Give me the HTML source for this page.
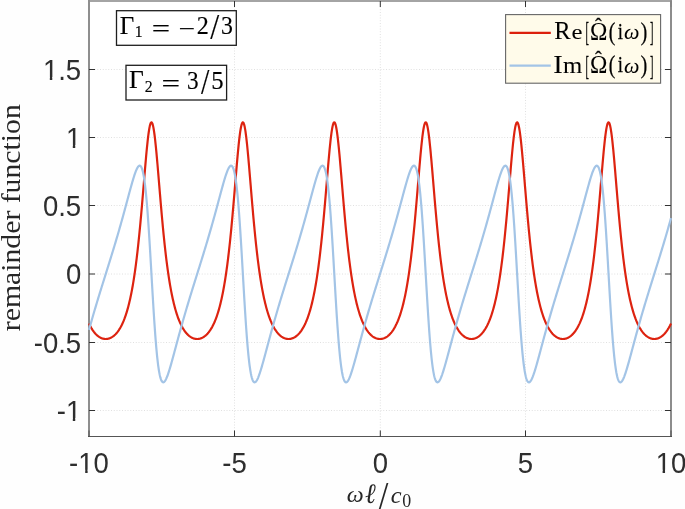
<!DOCTYPE html>
<html><head><meta charset="utf-8"><style>
html,body{margin:0;padding:0;background:#fff;overflow:hidden}
svg{display:block;will-change:transform}
</style></head><body>
<svg width="685" height="509" viewBox="0 0 685 509">
<defs><clipPath id="one" clipPathUnits="userSpaceOnUse"><rect x="-5" y="-40" width="39" height="37.033"/><rect x="7.292" y="-5" width="2.563" height="10"/></clipPath></defs>
<rect x="0" y="0" width="685" height="509" fill="#fefefe"/>
<rect x="89.0" y="1.0" width="582.0" height="435.5" fill="#ffffff"/>
<g stroke="#e0e0e0" stroke-width="1" stroke-dasharray="1 1.75"><line x1="234.5" y1="1.0" x2="234.5" y2="436.5"/><line x1="380.3" y1="1.0" x2="380.3" y2="436.5"/><line x1="525.5" y1="1.0" x2="525.5" y2="436.5"/><line x1="89.0" y1="69.5" x2="671.0" y2="69.5"/><line x1="89.0" y1="137.5" x2="671.0" y2="137.5"/><line x1="89.0" y1="205.5" x2="671.0" y2="205.5"/><line x1="89.0" y1="274.0" x2="671.0" y2="274.0"/><line x1="89.0" y1="342.5" x2="671.0" y2="342.5"/><line x1="89.0" y1="410.5" x2="671.0" y2="410.5"/></g>
<rect x="88" y="0" width="584" height="2" fill="#a4a4a4"/>
<rect x="88" y="0" width="2" height="437" fill="#8e8e8e"/>
<rect x="670" y="0" width="2" height="437" fill="#8c8c8c"/>
<rect x="88" y="436" width="584" height="1" fill="#555555"/>
<g stroke="#333" stroke-width="1"><line x1="234.5" y1="436.5" x2="234.5" y2="430.5"/><line x1="234.5" y1="1" x2="234.5" y2="7"/><line x1="380.3" y1="436.5" x2="380.3" y2="430.5"/><line x1="380.3" y1="1" x2="380.3" y2="7"/><line x1="525.5" y1="436.5" x2="525.5" y2="430.5"/><line x1="525.5" y1="1" x2="525.5" y2="7"/><line x1="89" y1="436.5" x2="89" y2="430.5" stroke-opacity="0.6"/><line x1="671" y1="436.5" x2="671" y2="430.5" stroke-opacity="0.6"/><line x1="671" y1="1" x2="671" y2="7" stroke-opacity="0.15"/><line x1="89.0" y1="69.5" x2="95.0" y2="69.5"/><line x1="671.0" y1="69.5" x2="665.0" y2="69.5"/><line x1="89.0" y1="137.5" x2="95.0" y2="137.5"/><line x1="671.0" y1="137.5" x2="665.0" y2="137.5"/><line x1="89.0" y1="205.5" x2="95.0" y2="205.5"/><line x1="671.0" y1="205.5" x2="665.0" y2="205.5"/><line x1="89.0" y1="274.0" x2="95.0" y2="274.0"/><line x1="671.0" y1="274.0" x2="665.0" y2="274.0"/><line x1="89.0" y1="342.5" x2="95.0" y2="342.5"/><line x1="671.0" y1="342.5" x2="665.0" y2="342.5"/><line x1="89.0" y1="410.5" x2="95.0" y2="410.5"/><line x1="671.0" y1="410.5" x2="665.0" y2="410.5"/></g>
<path d="M89.00,323.47 L89.36,324.25 L89.73,324.99 L90.09,325.72 L90.46,326.41 L90.82,327.08 L91.18,327.73 L91.55,328.35 L91.91,328.96 L92.28,329.53 L92.64,330.09 L93.00,330.62 L93.37,331.14 L93.73,331.63 L94.10,332.11 L94.46,332.56 L94.82,333.00 L95.19,333.42 L95.55,333.82 L95.92,334.21 L96.28,334.57 L96.64,334.92 L97.01,335.26 L97.37,335.57 L97.74,335.88 L98.10,336.16 L98.46,336.44 L98.83,336.69 L99.19,336.94 L99.56,337.16 L99.92,337.38 L100.28,337.58 L100.65,337.76 L101.01,337.94 L101.38,338.10 L101.74,338.24 L102.10,338.37 L102.47,338.49 L102.83,338.60 L103.20,338.69 L103.56,338.78 L103.92,338.84 L104.29,338.90 L104.65,338.94 L105.02,338.98 L105.38,338.99 L105.74,339.00 L106.11,338.99 L106.47,338.97 L106.83,338.94 L107.20,338.90 L107.56,338.84 L107.93,338.77 L108.29,338.69 L108.65,338.60 L109.02,338.49 L109.38,338.37 L109.75,338.24 L110.11,338.09 L110.47,337.93 L110.84,337.76 L111.20,337.57 L111.57,337.37 L111.93,337.16 L112.29,336.93 L112.66,336.69 L113.02,336.43 L113.39,336.16 L113.75,335.87 L114.11,335.57 L114.48,335.25 L114.84,334.91 L115.21,334.56 L115.57,334.20 L115.93,333.81 L116.30,333.41 L116.66,332.99 L117.03,332.55 L117.39,332.10 L117.75,331.62 L118.12,331.13 L118.48,330.61 L118.85,330.08 L119.21,329.52 L119.57,328.94 L119.94,328.34 L120.30,327.72 L120.67,327.07 L121.03,326.40 L121.39,325.70 L121.76,324.98 L122.12,324.23 L122.49,323.45 L122.85,322.65 L123.21,321.81 L123.58,320.95 L123.94,320.05 L124.31,319.13 L124.67,318.17 L125.03,317.17 L125.40,316.14 L125.76,315.07 L126.13,313.97 L126.49,312.83 L126.85,311.64 L127.22,310.42 L127.58,309.15 L127.95,307.83 L128.31,306.48 L128.67,305.07 L129.04,303.61 L129.40,302.10 L129.77,300.54 L130.13,298.93 L130.49,297.26 L130.86,295.53 L131.22,293.73 L131.59,291.88 L131.95,289.97 L132.31,287.98 L132.68,285.93 L133.04,283.81 L133.41,281.61 L133.77,279.34 L134.13,277.00 L134.50,274.57 L134.86,272.07 L135.23,269.48 L135.59,266.81 L135.95,264.05 L136.32,261.20 L136.68,258.26 L137.05,255.23 L137.41,252.11 L137.77,248.90 L138.14,245.59 L138.50,242.19 L138.86,238.69 L139.23,235.10 L139.59,231.42 L139.96,227.66 L140.32,223.80 L140.68,219.86 L141.05,215.84 L141.41,211.75 L141.78,207.59 L142.14,203.36 L142.50,199.09 L142.87,194.77 L143.23,190.42 L143.60,186.04 L143.96,181.66 L144.32,177.29 L144.69,172.94 L145.05,168.63 L145.42,164.39 L145.78,160.22 L146.14,156.16 L146.51,152.22 L146.87,148.43 L147.24,144.80 L147.60,141.38 L147.96,138.16 L148.33,135.19 L148.69,132.49 L149.06,130.06 L149.42,127.94 L149.78,126.14 L150.15,124.67 L150.51,123.55 L150.88,122.79 L151.24,122.39 L151.60,122.37 L151.97,122.71 L152.33,123.41 L152.70,124.48 L153.06,125.90 L153.42,127.65 L153.79,129.73 L154.15,132.11 L154.52,134.77 L154.88,137.71 L155.24,140.89 L155.61,144.28 L155.97,147.88 L156.34,151.65 L156.70,155.57 L157.06,159.61 L157.43,163.77 L157.79,168.00 L158.16,172.30 L158.52,176.64 L158.88,181.01 L159.25,185.39 L159.61,189.77 L159.98,194.12 L160.34,198.45 L160.70,202.73 L161.07,206.96 L161.43,211.14 L161.80,215.24 L162.16,219.27 L162.52,223.22 L162.89,227.09 L163.25,230.87 L163.62,234.56 L163.98,238.17 L164.34,241.67 L164.71,245.09 L165.07,248.41 L165.44,251.64 L165.80,254.77 L166.16,257.82 L166.53,260.77 L166.89,263.63 L167.26,266.40 L167.62,269.09 L167.98,271.69 L168.35,274.21 L168.71,276.64 L169.08,279.00 L169.44,281.28 L169.80,283.49 L170.17,285.62 L170.53,287.68 L170.89,289.68 L171.26,291.60 L171.62,293.46 L171.99,295.26 L172.35,297.00 L172.71,298.68 L173.08,300.31 L173.44,301.87 L173.81,303.39 L174.17,304.85 L174.53,306.27 L174.90,307.64 L175.26,308.96 L175.63,310.23 L175.99,311.46 L176.35,312.65 L176.72,313.80 L177.08,314.91 L177.45,315.99 L177.81,317.02 L178.17,318.02 L178.54,318.99 L178.90,319.92 L179.27,320.82 L179.63,321.69 L179.99,322.53 L180.36,323.34 L180.72,324.12 L181.09,324.87 L181.45,325.60 L181.81,326.30 L182.18,326.97 L182.54,327.62 L182.91,328.25 L183.27,328.85 L183.63,329.44 L184.00,330.00 L184.36,330.53 L184.73,331.05 L185.09,331.55 L185.45,332.03 L185.82,332.49 L186.18,332.93 L186.55,333.35 L186.91,333.75 L187.27,334.14 L187.64,334.51 L188.00,334.86 L188.37,335.20 L188.73,335.52 L189.09,335.83 L189.46,336.12 L189.82,336.39 L190.19,336.65 L190.55,336.89 L190.91,337.13 L191.28,337.34 L191.64,337.54 L192.01,337.73 L192.37,337.91 L192.73,338.07 L193.10,338.22 L193.46,338.35 L193.83,338.47 L194.19,338.58 L194.55,338.68 L194.92,338.76 L195.28,338.83 L195.65,338.89 L196.01,338.94 L196.37,338.97 L196.74,338.99 L197.10,339.00 L197.47,339.00 L197.83,338.98 L198.19,338.95 L198.56,338.91 L198.92,338.85 L199.29,338.79 L199.65,338.71 L200.01,338.62 L200.38,338.51 L200.74,338.39 L201.11,338.26 L201.47,338.12 L201.83,337.96 L202.20,337.79 L202.56,337.61 L202.92,337.41 L203.29,337.20 L203.65,336.97 L204.02,336.73 L204.38,336.47 L204.74,336.21 L205.11,335.92 L205.47,335.62 L205.84,335.30 L206.20,334.97 L206.56,334.63 L206.93,334.26 L207.29,333.88 L207.66,333.48 L208.02,333.06 L208.38,332.63 L208.75,332.18 L209.11,331.71 L209.48,331.21 L209.84,330.70 L210.20,330.17 L210.57,329.62 L210.93,329.04 L211.30,328.45 L211.66,327.83 L212.02,327.18 L212.39,326.51 L212.75,325.82 L213.12,325.10 L213.48,324.36 L213.84,323.59 L214.21,322.79 L214.57,321.96 L214.94,321.10 L215.30,320.21 L215.66,319.29 L216.03,318.33 L216.39,317.34 L216.76,316.32 L217.12,315.26 L217.48,314.16 L217.85,313.02 L218.21,311.85 L218.58,310.63 L218.94,309.37 L219.30,308.06 L219.67,306.71 L220.03,305.31 L220.40,303.86 L220.76,302.36 L221.12,300.81 L221.49,299.21 L221.85,297.54 L222.22,295.82 L222.58,294.04 L222.94,292.20 L223.31,290.30 L223.67,288.32 L224.04,286.29 L224.40,284.18 L224.76,281.99 L225.13,279.74 L225.49,277.40 L225.86,274.99 L226.22,272.50 L226.58,269.93 L226.95,267.27 L227.31,264.52 L227.68,261.69 L228.04,258.77 L228.40,255.75 L228.77,252.65 L229.13,249.45 L229.50,246.16 L229.86,242.77 L230.22,239.29 L230.59,235.72 L230.95,232.06 L231.32,228.30 L231.68,224.46 L232.04,220.54 L232.41,216.53 L232.77,212.45 L233.14,208.30 L233.50,204.09 L233.86,199.82 L234.23,195.51 L234.59,191.16 L234.95,186.79 L235.32,182.41 L235.68,178.03 L236.05,173.68 L236.41,169.36 L236.77,165.11 L237.14,160.93 L237.50,156.84 L237.87,152.88 L238.23,149.06 L238.59,145.41 L238.96,141.95 L239.32,138.70 L239.69,135.68 L240.05,132.93 L240.41,130.45 L240.78,128.28 L241.14,126.42 L241.51,124.89 L241.87,123.72 L242.23,122.89 L242.60,122.44 L242.96,122.35 L243.33,122.62 L243.69,123.27 L244.05,124.27 L244.42,125.63 L244.78,127.33 L245.15,129.35 L245.51,131.68 L245.87,134.30 L246.24,137.19 L246.60,140.33 L246.97,143.69 L247.33,147.25 L247.69,150.99 L248.06,154.89 L248.42,158.92 L248.79,163.05 L249.15,167.27 L249.51,171.56 L249.88,175.90 L250.24,180.27 L250.61,184.65 L250.97,189.02 L251.33,193.38 L251.70,197.72 L252.06,202.01 L252.43,206.25 L252.79,210.43 L253.15,214.55 L253.52,218.59 L253.88,222.55 L254.25,226.44 L254.61,230.23 L254.97,233.94 L255.34,237.56 L255.70,241.08 L256.07,244.51 L256.43,247.85 L256.79,251.10 L257.16,254.25 L257.52,257.30 L257.89,260.27 L258.25,263.15 L258.61,265.94 L258.98,268.64 L259.34,271.25 L259.71,273.78 L260.07,276.23 L260.43,278.61 L260.80,280.90 L261.16,283.12 L261.53,285.26 L261.89,287.34 L262.25,289.34 L262.62,291.28 L262.98,293.15 L263.35,294.96 L263.71,296.71 L264.07,298.40 L264.44,300.03 L264.80,301.61 L265.17,303.14 L265.53,304.61 L265.89,306.03 L266.26,307.41 L266.62,308.73 L266.98,310.02 L267.35,311.26 L267.71,312.45 L268.08,313.61 L268.44,314.73 L268.80,315.81 L269.17,316.85 L269.53,317.85 L269.90,318.82 L270.26,319.76 L270.62,320.67 L270.99,321.54 L271.35,322.39 L271.72,323.20 L272.08,323.98 L272.44,324.74 L272.81,325.47 L273.17,326.18 L273.54,326.86 L273.90,327.51 L274.26,328.14 L274.63,328.75 L274.99,329.34 L275.36,329.90 L275.72,330.44 L276.08,330.97 L276.45,331.47 L276.81,331.95 L277.18,332.41 L277.54,332.85 L277.90,333.28 L278.27,333.69 L278.63,334.08 L279.00,334.45 L279.36,334.81 L279.72,335.14 L280.09,335.47 L280.45,335.78 L280.82,336.07 L281.18,336.34 L281.54,336.61 L281.91,336.85 L282.27,337.09 L282.64,337.31 L283.00,337.51 L283.36,337.70 L283.73,337.88 L284.09,338.04 L284.46,338.19 L284.82,338.33 L285.18,338.45 L285.55,338.57 L285.91,338.66 L286.28,338.75 L286.64,338.82 L287.00,338.88 L287.37,338.93 L287.73,338.97 L288.10,338.99 L288.46,339.00 L288.82,339.00 L289.19,338.98 L289.55,338.96 L289.92,338.92 L290.28,338.86 L290.64,338.80 L291.01,338.72 L291.37,338.63 L291.74,338.53 L292.10,338.41 L292.46,338.29 L292.83,338.14 L293.19,337.99 L293.56,337.82 L293.92,337.64 L294.28,337.44 L294.65,337.23 L295.01,337.01 L295.38,336.77 L295.74,336.52 L296.10,336.25 L296.47,335.97 L296.83,335.67 L297.20,335.36 L297.56,335.03 L297.92,334.69 L298.29,334.32 L298.65,333.95 L299.02,333.55 L299.38,333.14 L299.74,332.71 L300.11,332.26 L300.47,331.79 L300.83,331.30 L301.20,330.79 L301.56,330.26 L301.93,329.71 L302.29,329.14 L302.65,328.55 L303.02,327.93 L303.38,327.29 L303.75,326.63 L304.11,325.94 L304.47,325.23 L304.84,324.49 L305.20,323.72 L305.57,322.93 L305.93,322.10 L306.29,321.25 L306.66,320.36 L307.02,319.45 L307.39,318.50 L307.75,317.51 L308.11,316.50 L308.48,315.44 L308.84,314.35 L309.21,313.22 L309.57,312.05 L309.93,310.84 L310.30,309.59 L310.66,308.29 L311.03,306.94 L311.39,305.55 L311.75,304.11 L312.12,302.62 L312.48,301.08 L312.85,299.48 L313.21,297.83 L313.57,296.12 L313.94,294.35 L314.30,292.52 L314.67,290.63 L315.03,288.67 L315.39,286.64 L315.76,284.54 L316.12,282.37 L316.49,280.13 L316.85,277.81 L317.21,275.41 L317.58,272.93 L317.94,270.37 L318.31,267.73 L318.67,265.00 L319.03,262.18 L319.40,259.27 L319.76,256.27 L320.13,253.18 L320.49,250.00 L320.85,246.73 L321.22,243.36 L321.58,239.89 L321.95,236.34 L322.31,232.69 L322.67,228.95 L323.04,225.12 L323.40,221.21 L323.77,217.22 L324.13,213.15 L324.49,209.01 L324.86,204.81 L325.22,200.55 L325.59,196.24 L325.95,191.90 L326.31,187.53 L326.68,183.15 L327.04,178.78 L327.41,174.42 L327.77,170.10 L328.13,165.83 L328.50,161.63 L328.86,157.53 L329.23,153.55 L329.59,149.70 L329.95,146.02 L330.32,142.52 L330.68,139.23 L331.05,136.18 L331.41,133.38 L331.77,130.85 L332.14,128.63 L332.50,126.71 L332.86,125.13 L333.23,123.89 L333.59,123.01 L333.96,122.49 L334.32,122.33 L334.68,122.55 L335.05,123.13 L335.41,124.08 L335.78,125.38 L336.14,127.02 L336.50,128.98 L336.87,131.26 L337.23,133.84 L337.60,136.68 L337.96,139.78 L338.32,143.10 L338.69,146.63 L339.05,150.35 L339.42,154.22 L339.78,158.22 L340.14,162.34 L340.51,166.55 L340.87,170.83 L341.24,175.16 L341.60,179.52 L341.96,183.90 L342.33,188.28 L342.69,192.64 L343.06,196.98 L343.42,201.28 L343.78,205.53 L344.15,209.72 L344.51,213.85 L344.88,217.91 L345.24,221.88 L345.60,225.78 L345.97,229.59 L346.33,233.32 L346.70,236.95 L347.06,240.49 L347.42,243.94 L347.79,247.29 L348.15,250.55 L348.52,253.72 L348.88,256.79 L349.24,259.77 L349.61,262.66 L349.97,265.47 L350.34,268.18 L350.70,270.81 L351.06,273.36 L351.43,275.82 L351.79,278.21 L352.16,280.51 L352.52,282.74 L352.88,284.90 L353.25,286.99 L353.61,289.00 L353.98,290.95 L354.34,292.84 L354.70,294.66 L355.07,296.42 L355.43,298.12 L355.80,299.76 L356.16,301.35 L356.52,302.88 L356.89,304.36 L357.25,305.79 L357.62,307.18 L357.98,308.51 L358.34,309.80 L358.71,311.05 L359.07,312.25 L359.44,313.42 L359.80,314.54 L360.16,315.62 L360.53,316.67 L360.89,317.68 L361.26,318.66 L361.62,319.60 L361.98,320.52 L362.35,321.39 L362.71,322.24 L363.08,323.06 L363.44,323.85 L363.80,324.62 L364.17,325.35 L364.53,326.06 L364.89,326.74 L365.26,327.40 L365.62,328.04 L365.99,328.65 L366.35,329.24 L366.71,329.81 L367.08,330.35 L367.44,330.88 L367.81,331.38 L368.17,331.87 L368.53,332.33 L368.90,332.78 L369.26,333.21 L369.63,333.62 L369.99,334.01 L370.35,334.39 L370.72,334.75 L371.08,335.09 L371.45,335.41 L371.81,335.72 L372.17,336.02 L372.54,336.30 L372.90,336.56 L373.27,336.81 L373.63,337.05 L373.99,337.27 L374.36,337.48 L374.72,337.67 L375.09,337.85 L375.45,338.02 L375.81,338.17 L376.18,338.31 L376.54,338.43 L376.91,338.55 L377.27,338.65 L377.63,338.74 L378.00,338.81 L378.36,338.87 L378.73,338.92 L379.09,338.96 L379.45,338.99 L379.82,339.00 L380.18,339.00 L380.55,338.99 L380.91,338.96 L381.27,338.92 L381.64,338.87 L382.00,338.81 L382.37,338.74 L382.73,338.65 L383.09,338.55 L383.46,338.43 L383.82,338.31 L384.19,338.17 L384.55,338.02 L384.91,337.85 L385.28,337.67 L385.64,337.48 L386.01,337.27 L386.37,337.05 L386.73,336.81 L387.10,336.56 L387.46,336.30 L387.83,336.02 L388.19,335.72 L388.55,335.41 L388.92,335.09 L389.28,334.75 L389.65,334.39 L390.01,334.01 L390.37,333.62 L390.74,333.21 L391.10,332.78 L391.47,332.33 L391.83,331.87 L392.19,331.38 L392.56,330.88 L392.92,330.35 L393.29,329.81 L393.65,329.24 L394.01,328.65 L394.38,328.04 L394.74,327.40 L395.11,326.74 L395.47,326.06 L395.83,325.35 L396.20,324.62 L396.56,323.85 L396.92,323.06 L397.29,322.24 L397.65,321.39 L398.02,320.52 L398.38,319.60 L398.74,318.66 L399.11,317.68 L399.47,316.67 L399.84,315.62 L400.20,314.54 L400.56,313.42 L400.93,312.25 L401.29,311.05 L401.66,309.80 L402.02,308.51 L402.38,307.18 L402.75,305.79 L403.11,304.36 L403.48,302.88 L403.84,301.35 L404.20,299.76 L404.57,298.12 L404.93,296.42 L405.30,294.66 L405.66,292.84 L406.02,290.95 L406.39,289.00 L406.75,286.99 L407.12,284.90 L407.48,282.74 L407.84,280.51 L408.21,278.21 L408.57,275.82 L408.94,273.36 L409.30,270.81 L409.66,268.18 L410.03,265.47 L410.39,262.66 L410.76,259.77 L411.12,256.79 L411.48,253.72 L411.85,250.55 L412.21,247.29 L412.58,243.94 L412.94,240.49 L413.30,236.95 L413.67,233.32 L414.03,229.59 L414.40,225.78 L414.76,221.88 L415.12,217.91 L415.49,213.85 L415.85,209.72 L416.22,205.53 L416.58,201.28 L416.94,196.98 L417.31,192.64 L417.67,188.28 L418.04,183.90 L418.40,179.52 L418.76,175.16 L419.13,170.83 L419.49,166.55 L419.86,162.34 L420.22,158.22 L420.58,154.22 L420.95,150.35 L421.31,146.63 L421.68,143.10 L422.04,139.78 L422.40,136.68 L422.77,133.84 L423.13,131.26 L423.50,128.98 L423.86,127.02 L424.22,125.38 L424.59,124.08 L424.95,123.13 L425.32,122.55 L425.68,122.33 L426.04,122.49 L426.41,123.01 L426.77,123.89 L427.14,125.13 L427.50,126.71 L427.86,128.63 L428.23,130.85 L428.59,133.38 L428.95,136.18 L429.32,139.23 L429.68,142.52 L430.05,146.02 L430.41,149.70 L430.77,153.55 L431.14,157.53 L431.50,161.63 L431.87,165.83 L432.23,170.10 L432.59,174.42 L432.96,178.78 L433.32,183.15 L433.69,187.53 L434.05,191.90 L434.41,196.24 L434.78,200.55 L435.14,204.81 L435.51,209.01 L435.87,213.15 L436.23,217.22 L436.60,221.21 L436.96,225.12 L437.33,228.95 L437.69,232.69 L438.05,236.34 L438.42,239.89 L438.78,243.36 L439.15,246.73 L439.51,250.00 L439.87,253.18 L440.24,256.27 L440.60,259.27 L440.97,262.18 L441.33,265.00 L441.69,267.73 L442.06,270.37 L442.42,272.93 L442.79,275.41 L443.15,277.81 L443.51,280.13 L443.88,282.37 L444.24,284.54 L444.61,286.64 L444.97,288.67 L445.33,290.63 L445.70,292.52 L446.06,294.35 L446.43,296.12 L446.79,297.83 L447.15,299.48 L447.52,301.08 L447.88,302.62 L448.25,304.11 L448.61,305.55 L448.97,306.94 L449.34,308.29 L449.70,309.59 L450.07,310.84 L450.43,312.05 L450.79,313.22 L451.16,314.35 L451.52,315.44 L451.89,316.50 L452.25,317.51 L452.61,318.50 L452.98,319.45 L453.34,320.36 L453.71,321.25 L454.07,322.10 L454.43,322.93 L454.80,323.72 L455.16,324.49 L455.53,325.23 L455.89,325.94 L456.25,326.63 L456.62,327.29 L456.98,327.93 L457.35,328.55 L457.71,329.14 L458.07,329.71 L458.44,330.26 L458.80,330.79 L459.17,331.30 L459.53,331.79 L459.89,332.26 L460.26,332.71 L460.62,333.14 L460.98,333.55 L461.35,333.95 L461.71,334.32 L462.08,334.69 L462.44,335.03 L462.80,335.36 L463.17,335.67 L463.53,335.97 L463.90,336.25 L464.26,336.52 L464.62,336.77 L464.99,337.01 L465.35,337.23 L465.72,337.44 L466.08,337.64 L466.44,337.82 L466.81,337.99 L467.17,338.14 L467.54,338.29 L467.90,338.41 L468.26,338.53 L468.63,338.63 L468.99,338.72 L469.36,338.80 L469.72,338.86 L470.08,338.92 L470.45,338.96 L470.81,338.98 L471.18,339.00 L471.54,339.00 L471.90,338.99 L472.27,338.97 L472.63,338.93 L473.00,338.88 L473.36,338.82 L473.72,338.75 L474.09,338.66 L474.45,338.57 L474.82,338.45 L475.18,338.33 L475.54,338.19 L475.91,338.04 L476.27,337.88 L476.64,337.70 L477.00,337.51 L477.36,337.31 L477.73,337.09 L478.09,336.85 L478.46,336.61 L478.82,336.34 L479.18,336.07 L479.55,335.78 L479.91,335.47 L480.28,335.14 L480.64,334.81 L481.00,334.45 L481.37,334.08 L481.73,333.69 L482.10,333.28 L482.46,332.85 L482.82,332.41 L483.19,331.95 L483.55,331.47 L483.92,330.97 L484.28,330.44 L484.64,329.90 L485.01,329.34 L485.37,328.75 L485.74,328.14 L486.10,327.51 L486.46,326.86 L486.83,326.18 L487.19,325.47 L487.56,324.74 L487.92,323.98 L488.28,323.20 L488.65,322.39 L489.01,321.54 L489.38,320.67 L489.74,319.76 L490.10,318.82 L490.47,317.85 L490.83,316.85 L491.20,315.81 L491.56,314.73 L491.92,313.61 L492.29,312.45 L492.65,311.26 L493.02,310.02 L493.38,308.73 L493.74,307.41 L494.11,306.03 L494.47,304.61 L494.83,303.14 L495.20,301.61 L495.56,300.03 L495.93,298.40 L496.29,296.71 L496.65,294.96 L497.02,293.15 L497.38,291.28 L497.75,289.34 L498.11,287.34 L498.47,285.26 L498.84,283.12 L499.20,280.90 L499.57,278.61 L499.93,276.23 L500.29,273.78 L500.66,271.25 L501.02,268.64 L501.39,265.94 L501.75,263.15 L502.11,260.27 L502.48,257.30 L502.84,254.25 L503.21,251.10 L503.57,247.85 L503.93,244.51 L504.30,241.08 L504.66,237.56 L505.03,233.94 L505.39,230.23 L505.75,226.44 L506.12,222.55 L506.48,218.59 L506.85,214.55 L507.21,210.43 L507.57,206.25 L507.94,202.01 L508.30,197.72 L508.67,193.38 L509.03,189.02 L509.39,184.65 L509.76,180.27 L510.12,175.90 L510.49,171.56 L510.85,167.27 L511.21,163.05 L511.58,158.92 L511.94,154.89 L512.31,150.99 L512.67,147.25 L513.03,143.69 L513.40,140.33 L513.76,137.19 L514.13,134.30 L514.49,131.68 L514.85,129.35 L515.22,127.33 L515.58,125.63 L515.95,124.27 L516.31,123.27 L516.67,122.62 L517.04,122.35 L517.40,122.44 L517.77,122.89 L518.13,123.72 L518.49,124.89 L518.86,126.42 L519.22,128.28 L519.59,130.45 L519.95,132.93 L520.31,135.68 L520.68,138.70 L521.04,141.95 L521.41,145.41 L521.77,149.06 L522.13,152.88 L522.50,156.84 L522.86,160.93 L523.23,165.11 L523.59,169.36 L523.95,173.68 L524.32,178.03 L524.68,182.41 L525.05,186.79 L525.41,191.16 L525.77,195.51 L526.14,199.82 L526.50,204.09 L526.86,208.30 L527.23,212.45 L527.59,216.53 L527.96,220.54 L528.32,224.46 L528.68,228.30 L529.05,232.06 L529.41,235.72 L529.78,239.29 L530.14,242.77 L530.50,246.16 L530.87,249.45 L531.23,252.65 L531.60,255.75 L531.96,258.77 L532.32,261.69 L532.69,264.52 L533.05,267.27 L533.42,269.93 L533.78,272.50 L534.14,274.99 L534.51,277.40 L534.87,279.74 L535.24,281.99 L535.60,284.18 L535.96,286.29 L536.33,288.32 L536.69,290.30 L537.06,292.20 L537.42,294.04 L537.78,295.82 L538.15,297.54 L538.51,299.21 L538.88,300.81 L539.24,302.36 L539.60,303.86 L539.97,305.31 L540.33,306.71 L540.70,308.06 L541.06,309.37 L541.42,310.63 L541.79,311.85 L542.15,313.02 L542.52,314.16 L542.88,315.26 L543.24,316.32 L543.61,317.34 L543.97,318.33 L544.34,319.29 L544.70,320.21 L545.06,321.10 L545.43,321.96 L545.79,322.79 L546.16,323.59 L546.52,324.36 L546.88,325.10 L547.25,325.82 L547.61,326.51 L547.98,327.18 L548.34,327.83 L548.70,328.45 L549.07,329.04 L549.43,329.62 L549.80,330.17 L550.16,330.70 L550.52,331.21 L550.89,331.71 L551.25,332.18 L551.62,332.63 L551.98,333.06 L552.34,333.48 L552.71,333.88 L553.07,334.26 L553.44,334.63 L553.80,334.97 L554.16,335.30 L554.53,335.62 L554.89,335.92 L555.26,336.21 L555.62,336.47 L555.98,336.73 L556.35,336.97 L556.71,337.20 L557.08,337.41 L557.44,337.61 L557.80,337.79 L558.17,337.96 L558.53,338.12 L558.89,338.26 L559.26,338.39 L559.62,338.51 L559.99,338.62 L560.35,338.71 L560.71,338.79 L561.08,338.85 L561.44,338.91 L561.81,338.95 L562.17,338.98 L562.53,339.00 L562.90,339.00 L563.26,338.99 L563.63,338.97 L563.99,338.94 L564.35,338.89 L564.72,338.83 L565.08,338.76 L565.45,338.68 L565.81,338.58 L566.17,338.47 L566.54,338.35 L566.90,338.22 L567.27,338.07 L567.63,337.91 L567.99,337.73 L568.36,337.54 L568.72,337.34 L569.09,337.13 L569.45,336.89 L569.81,336.65 L570.18,336.39 L570.54,336.12 L570.91,335.83 L571.27,335.52 L571.63,335.20 L572.00,334.86 L572.36,334.51 L572.73,334.14 L573.09,333.75 L573.45,333.35 L573.82,332.93 L574.18,332.49 L574.55,332.03 L574.91,331.55 L575.27,331.05 L575.64,330.53 L576.00,330.00 L576.37,329.44 L576.73,328.85 L577.09,328.25 L577.46,327.62 L577.82,326.97 L578.19,326.30 L578.55,325.60 L578.91,324.87 L579.28,324.12 L579.64,323.34 L580.01,322.53 L580.37,321.69 L580.73,320.82 L581.10,319.92 L581.46,318.99 L581.83,318.02 L582.19,317.02 L582.55,315.99 L582.92,314.91 L583.28,313.80 L583.65,312.65 L584.01,311.46 L584.37,310.23 L584.74,308.96 L585.10,307.64 L585.47,306.27 L585.83,304.85 L586.19,303.39 L586.56,301.87 L586.92,300.31 L587.29,298.68 L587.65,297.00 L588.01,295.26 L588.38,293.46 L588.74,291.60 L589.11,289.68 L589.47,287.68 L589.83,285.62 L590.20,283.49 L590.56,281.28 L590.92,279.00 L591.29,276.64 L591.65,274.21 L592.02,271.69 L592.38,269.09 L592.74,266.40 L593.11,263.63 L593.47,260.77 L593.84,257.82 L594.20,254.77 L594.56,251.64 L594.93,248.41 L595.29,245.09 L595.66,241.67 L596.02,238.17 L596.38,234.56 L596.75,230.87 L597.11,227.09 L597.48,223.22 L597.84,219.27 L598.20,215.24 L598.57,211.14 L598.93,206.96 L599.30,202.73 L599.66,198.45 L600.02,194.12 L600.39,189.77 L600.75,185.39 L601.12,181.01 L601.48,176.64 L601.84,172.30 L602.21,168.00 L602.57,163.77 L602.94,159.61 L603.30,155.57 L603.66,151.65 L604.03,147.88 L604.39,144.28 L604.76,140.89 L605.12,137.71 L605.48,134.77 L605.85,132.11 L606.21,129.73 L606.58,127.65 L606.94,125.90 L607.30,124.48 L607.67,123.41 L608.03,122.71 L608.40,122.37 L608.76,122.39 L609.12,122.79 L609.49,123.55 L609.85,124.67 L610.22,126.14 L610.58,127.94 L610.94,130.06 L611.31,132.49 L611.67,135.19 L612.04,138.16 L612.40,141.38 L612.76,144.80 L613.13,148.43 L613.49,152.22 L613.86,156.16 L614.22,160.22 L614.58,164.39 L614.95,168.63 L615.31,172.94 L615.68,177.29 L616.04,181.66 L616.40,186.04 L616.77,190.42 L617.13,194.77 L617.50,199.09 L617.86,203.36 L618.22,207.59 L618.59,211.75 L618.95,215.84 L619.32,219.86 L619.68,223.80 L620.04,227.66 L620.41,231.42 L620.77,235.10 L621.14,238.69 L621.50,242.19 L621.86,245.59 L622.23,248.90 L622.59,252.11 L622.95,255.23 L623.32,258.26 L623.68,261.20 L624.05,264.05 L624.41,266.81 L624.77,269.48 L625.14,272.07 L625.50,274.57 L625.87,277.00 L626.23,279.34 L626.59,281.61 L626.96,283.81 L627.32,285.93 L627.69,287.98 L628.05,289.97 L628.41,291.88 L628.78,293.73 L629.14,295.53 L629.51,297.26 L629.87,298.93 L630.23,300.54 L630.60,302.10 L630.96,303.61 L631.33,305.07 L631.69,306.48 L632.05,307.83 L632.42,309.15 L632.78,310.42 L633.15,311.64 L633.51,312.83 L633.87,313.97 L634.24,315.07 L634.60,316.14 L634.97,317.17 L635.33,318.17 L635.69,319.13 L636.06,320.05 L636.42,320.95 L636.79,321.81 L637.15,322.65 L637.51,323.45 L637.88,324.23 L638.24,324.98 L638.61,325.70 L638.97,326.40 L639.33,327.07 L639.70,327.72 L640.06,328.34 L640.43,328.94 L640.79,329.52 L641.15,330.08 L641.52,330.61 L641.88,331.13 L642.25,331.62 L642.61,332.10 L642.97,332.55 L643.34,332.99 L643.70,333.41 L644.07,333.81 L644.43,334.20 L644.79,334.56 L645.16,334.91 L645.52,335.25 L645.89,335.57 L646.25,335.87 L646.61,336.16 L646.98,336.43 L647.34,336.69 L647.71,336.93 L648.07,337.16 L648.43,337.37 L648.80,337.57 L649.16,337.76 L649.53,337.93 L649.89,338.09 L650.25,338.24 L650.62,338.37 L650.98,338.49 L651.35,338.60 L651.71,338.69 L652.07,338.77 L652.44,338.84 L652.80,338.90 L653.17,338.94 L653.53,338.97 L653.89,338.99 L654.26,339.00 L654.62,338.99 L654.98,338.98 L655.35,338.94 L655.71,338.90 L656.08,338.84 L656.44,338.78 L656.80,338.69 L657.17,338.60 L657.53,338.49 L657.90,338.37 L658.26,338.24 L658.62,338.10 L658.99,337.94 L659.35,337.76 L659.72,337.58 L660.08,337.38 L660.44,337.16 L660.81,336.94 L661.17,336.69 L661.54,336.44 L661.90,336.16 L662.26,335.88 L662.63,335.57 L662.99,335.26 L663.36,334.92 L663.72,334.57 L664.08,334.21 L664.45,333.82 L664.81,333.42 L665.18,333.00 L665.54,332.56 L665.90,332.11 L666.27,331.63 L666.63,331.14 L667.00,330.62 L667.36,330.09 L667.72,329.53 L668.09,328.96 L668.45,328.35 L668.82,327.73 L669.18,327.08 L669.54,326.41 L669.91,325.72 L670.27,324.99 L670.64,324.25 L671.00,323.47" fill="none" stroke="#dd2310" stroke-width="2.2" stroke-linejoin="round"/>
<path d="M89.00,329.89 L89.36,328.58 L89.73,327.28 L90.09,325.98 L90.46,324.68 L90.82,323.39 L91.18,322.11 L91.55,320.83 L91.91,319.56 L92.28,318.29 L92.64,317.03 L93.00,315.77 L93.37,314.51 L93.73,313.27 L94.10,312.02 L94.46,310.78 L94.82,309.55 L95.19,308.32 L95.55,307.09 L95.92,305.87 L96.28,304.66 L96.64,303.44 L97.01,302.23 L97.37,301.03 L97.74,299.83 L98.10,298.63 L98.46,297.43 L98.83,296.24 L99.19,295.05 L99.56,293.86 L99.92,292.68 L100.28,291.50 L100.65,290.32 L101.01,289.15 L101.38,287.97 L101.74,286.80 L102.10,285.63 L102.47,284.46 L102.83,283.29 L103.20,282.13 L103.56,280.96 L103.92,279.80 L104.29,278.63 L104.65,277.47 L105.02,276.31 L105.38,275.15 L105.74,273.99 L106.11,272.83 L106.47,271.66 L106.83,270.50 L107.20,269.34 L107.56,268.18 L107.93,267.01 L108.29,265.85 L108.65,264.68 L109.02,263.51 L109.38,262.35 L109.75,261.18 L110.11,260.00 L110.47,258.83 L110.84,257.65 L111.20,256.47 L111.57,255.29 L111.93,254.11 L112.29,252.92 L112.66,251.73 L113.02,250.54 L113.39,249.35 L113.75,248.15 L114.11,246.95 L114.48,245.74 L114.84,244.53 L115.21,243.32 L115.57,242.10 L115.93,240.88 L116.30,239.65 L116.66,238.42 L117.03,237.19 L117.39,235.95 L117.75,234.71 L118.12,233.46 L118.48,232.20 L118.85,230.95 L119.21,229.68 L119.57,228.41 L119.94,227.14 L120.30,225.86 L120.67,224.58 L121.03,223.29 L121.39,221.99 L121.76,220.70 L122.12,219.39 L122.49,218.08 L122.85,216.77 L123.21,215.45 L123.58,214.12 L123.94,212.80 L124.31,211.46 L124.67,210.13 L125.03,208.78 L125.40,207.44 L125.76,206.09 L126.13,204.74 L126.49,203.39 L126.85,202.03 L127.22,200.68 L127.58,199.32 L127.95,197.97 L128.31,196.61 L128.67,195.26 L129.04,193.90 L129.40,192.56 L129.77,191.21 L130.13,189.88 L130.49,188.55 L130.86,187.23 L131.22,185.92 L131.59,184.62 L131.95,183.34 L132.31,182.07 L132.68,180.82 L133.04,179.60 L133.41,178.39 L133.77,177.22 L134.13,176.07 L134.50,174.96 L134.86,173.89 L135.23,172.86 L135.59,171.87 L135.95,170.94 L136.32,170.06 L136.68,169.24 L137.05,168.49 L137.41,167.81 L137.77,167.21 L138.14,166.70 L138.50,166.28 L138.86,165.96 L139.23,165.76 L139.59,165.67 L139.96,165.71 L140.32,165.88 L140.68,166.21 L141.05,166.69 L141.41,167.33 L141.78,168.15 L142.14,169.16 L142.50,170.37 L142.87,171.79 L143.23,173.42 L143.60,175.28 L143.96,177.38 L144.32,179.73 L144.69,182.33 L145.05,185.18 L145.42,188.31 L145.78,191.70 L146.14,195.36 L146.51,199.29 L146.87,203.48 L147.24,207.94 L147.60,212.65 L147.96,217.61 L148.33,222.80 L148.69,228.21 L149.06,233.82 L149.42,239.61 L149.78,245.55 L150.15,251.63 L150.51,257.81 L150.88,264.07 L151.24,270.37 L151.60,276.69 L151.97,283.00 L152.33,289.27 L152.70,295.46 L153.06,301.55 L153.42,307.52 L153.79,313.33 L154.15,318.97 L154.52,324.41 L154.88,329.63 L155.24,334.63 L155.61,339.38 L155.97,343.87 L156.34,348.11 L156.70,352.08 L157.06,355.78 L157.43,359.21 L157.79,362.37 L158.16,365.27 L158.52,367.90 L158.88,370.28 L159.25,372.42 L159.61,374.32 L159.98,375.98 L160.34,377.43 L160.70,378.67 L161.07,379.71 L161.43,380.56 L161.80,381.23 L162.16,381.73 L162.52,382.08 L162.89,382.27 L163.25,382.33 L163.62,382.26 L163.98,382.07 L164.34,381.77 L164.71,381.37 L165.07,380.87 L165.44,380.28 L165.80,379.62 L166.16,378.88 L166.53,378.07 L166.89,377.20 L167.26,376.27 L167.62,375.29 L167.98,374.27 L168.35,373.20 L168.71,372.09 L169.08,370.95 L169.44,369.78 L169.80,368.58 L170.17,367.36 L170.53,366.12 L170.89,364.85 L171.26,363.57 L171.62,362.28 L171.99,360.97 L172.35,359.65 L172.71,358.32 L173.08,356.98 L173.44,355.64 L173.81,354.30 L174.17,352.94 L174.53,351.59 L174.90,350.24 L175.26,348.88 L175.63,347.52 L175.99,346.17 L176.35,344.81 L176.72,343.46 L177.08,342.11 L177.45,340.76 L177.81,339.41 L178.17,338.07 L178.54,336.74 L178.90,335.40 L179.27,334.07 L179.63,332.75 L179.99,331.43 L180.36,330.11 L180.72,328.80 L181.09,327.50 L181.45,326.20 L181.81,324.90 L182.18,323.61 L182.54,322.33 L182.91,321.05 L183.27,319.77 L183.63,318.51 L184.00,317.24 L184.36,315.98 L184.73,314.73 L185.09,313.48 L185.45,312.23 L185.82,310.99 L186.18,309.76 L186.55,308.53 L186.91,307.30 L187.27,306.08 L187.64,304.86 L188.00,303.65 L188.37,302.44 L188.73,301.23 L189.09,300.03 L189.46,298.83 L189.82,297.63 L190.19,296.44 L190.55,295.25 L190.91,294.07 L191.28,292.88 L191.64,291.70 L192.01,290.52 L192.37,289.35 L192.73,288.17 L193.10,287.00 L193.46,285.83 L193.83,284.66 L194.19,283.49 L194.55,282.33 L194.92,281.16 L195.28,280.00 L195.65,278.83 L196.01,277.67 L196.37,276.51 L196.74,275.35 L197.10,274.19 L197.47,273.02 L197.83,271.86 L198.19,270.70 L198.56,269.54 L198.92,268.37 L199.29,267.21 L199.65,266.05 L200.01,264.88 L200.38,263.71 L200.74,262.54 L201.11,261.37 L201.47,260.20 L201.83,259.03 L202.20,257.85 L202.56,256.67 L202.92,255.49 L203.29,254.31 L203.65,253.13 L204.02,251.94 L204.38,250.75 L204.74,249.55 L205.11,248.35 L205.47,247.15 L205.84,245.95 L206.20,244.74 L206.56,243.52 L206.93,242.31 L207.29,241.09 L207.66,239.86 L208.02,238.63 L208.38,237.40 L208.75,236.16 L209.11,234.92 L209.48,233.67 L209.84,232.42 L210.20,231.16 L210.57,229.90 L210.93,228.63 L211.30,227.36 L211.66,226.08 L212.02,224.80 L212.39,223.51 L212.75,222.22 L213.12,220.92 L213.48,219.61 L213.84,218.30 L214.21,216.99 L214.57,215.67 L214.94,214.35 L215.30,213.02 L215.66,211.69 L216.03,210.35 L216.39,209.01 L216.76,207.67 L217.12,206.32 L217.48,204.97 L217.85,203.62 L218.21,202.27 L218.58,200.91 L218.94,199.55 L219.30,198.20 L219.67,196.84 L220.03,195.49 L220.40,194.13 L220.76,192.79 L221.12,191.44 L221.49,190.10 L221.85,188.77 L222.22,187.45 L222.58,186.14 L222.94,184.84 L223.31,183.55 L223.67,182.28 L224.04,181.03 L224.40,179.80 L224.76,178.60 L225.13,177.42 L225.49,176.27 L225.86,175.15 L226.22,174.07 L226.58,173.03 L226.95,172.04 L227.31,171.09 L227.68,170.20 L228.04,169.37 L228.40,168.61 L228.77,167.92 L229.13,167.31 L229.50,166.78 L229.86,166.35 L230.22,166.01 L230.59,165.78 L230.95,165.68 L231.32,165.69 L231.68,165.84 L232.04,166.14 L232.41,166.59 L232.77,167.21 L233.14,168.00 L233.50,168.98 L233.86,170.15 L234.23,171.53 L234.59,173.13 L234.95,174.95 L235.32,177.01 L235.68,179.31 L236.05,181.87 L236.41,184.68 L236.77,187.76 L237.14,191.10 L237.50,194.71 L237.87,198.60 L238.23,202.75 L238.59,207.16 L238.96,211.83 L239.32,216.75 L239.69,221.90 L240.05,227.28 L240.41,232.85 L240.78,238.61 L241.14,244.53 L241.51,250.58 L241.87,256.75 L242.23,263.00 L242.60,269.29 L242.96,275.62 L243.33,281.93 L243.69,288.20 L244.05,294.41 L244.42,300.52 L244.78,306.51 L245.15,312.35 L245.51,318.02 L245.87,323.50 L246.24,328.76 L246.60,333.79 L246.97,338.58 L247.33,343.13 L247.69,347.41 L248.06,351.42 L248.42,355.17 L248.79,358.64 L249.15,361.85 L249.51,364.79 L249.88,367.47 L250.24,369.90 L250.61,372.07 L250.97,374.01 L251.33,375.72 L251.70,377.20 L252.06,378.47 L252.43,379.55 L252.79,380.43 L253.15,381.13 L253.52,381.66 L253.88,382.03 L254.25,382.25 L254.61,382.33 L254.97,382.28 L255.34,382.11 L255.70,381.83 L256.07,381.44 L256.43,380.96 L256.79,380.39 L257.16,379.74 L257.52,379.01 L257.89,378.21 L258.25,377.35 L258.61,376.43 L258.98,375.46 L259.34,374.44 L259.71,373.38 L260.07,372.28 L260.43,371.15 L260.80,369.98 L261.16,368.79 L261.53,367.57 L261.89,366.33 L262.25,365.07 L262.62,363.79 L262.98,362.50 L263.35,361.19 L263.71,359.87 L264.07,358.55 L264.44,357.21 L264.80,355.87 L265.17,354.53 L265.53,353.17 L265.89,351.82 L266.26,350.47 L266.62,349.11 L266.98,347.75 L267.35,346.40 L267.71,345.04 L268.08,343.69 L268.44,342.34 L268.80,340.99 L269.17,339.64 L269.53,338.30 L269.90,336.96 L270.26,335.63 L270.62,334.30 L270.99,332.97 L271.35,331.65 L271.72,330.34 L272.08,329.03 L272.44,327.72 L272.81,326.42 L273.17,325.12 L273.54,323.83 L273.90,322.55 L274.26,321.27 L274.63,319.99 L274.99,318.72 L275.36,317.46 L275.72,316.20 L276.08,314.94 L276.45,313.69 L276.81,312.45 L277.18,311.21 L277.54,309.97 L277.90,308.74 L278.27,307.51 L278.63,306.29 L279.00,305.07 L279.36,303.85 L279.72,302.64 L280.09,301.44 L280.45,300.23 L280.82,299.03 L281.18,297.84 L281.54,296.65 L281.91,295.46 L282.27,294.27 L282.64,293.08 L283.00,291.90 L283.36,290.72 L283.73,289.55 L284.09,288.37 L284.46,287.20 L284.82,286.03 L285.18,284.86 L285.55,283.69 L285.91,282.52 L286.28,281.36 L286.64,280.19 L287.00,279.03 L287.37,277.87 L287.73,276.71 L288.10,275.54 L288.46,274.38 L288.82,273.22 L289.19,272.06 L289.55,270.90 L289.92,269.74 L290.28,268.57 L290.64,267.41 L291.01,266.24 L291.37,265.08 L291.74,263.91 L292.10,262.74 L292.46,261.57 L292.83,260.40 L293.19,259.23 L293.56,258.05 L293.92,256.88 L294.28,255.70 L294.65,254.51 L295.01,253.33 L295.38,252.14 L295.74,250.95 L296.10,249.75 L296.47,248.56 L296.83,247.36 L297.20,246.15 L297.56,244.94 L297.92,243.73 L298.29,242.52 L298.65,241.30 L299.02,240.07 L299.38,238.84 L299.74,237.61 L300.11,236.37 L300.47,235.13 L300.83,233.88 L301.20,232.63 L301.56,231.38 L301.93,230.11 L302.29,228.85 L302.65,227.58 L303.02,226.30 L303.38,225.02 L303.75,223.73 L304.11,222.44 L304.47,221.14 L304.84,219.84 L305.20,218.53 L305.57,217.22 L305.93,215.90 L306.29,214.58 L306.66,213.25 L307.02,211.92 L307.39,210.58 L307.75,209.24 L308.11,207.90 L308.48,206.55 L308.84,205.20 L309.21,203.85 L309.57,202.50 L309.93,201.14 L310.30,199.78 L310.66,198.43 L311.03,197.07 L311.39,195.72 L311.75,194.36 L312.12,193.02 L312.48,191.67 L312.85,190.33 L313.21,189.00 L313.57,187.68 L313.94,186.36 L314.30,185.06 L314.67,183.77 L315.03,182.50 L315.39,181.25 L315.76,180.01 L316.12,178.80 L316.49,177.62 L316.85,176.46 L317.21,175.34 L317.58,174.25 L317.94,173.20 L318.31,172.20 L318.67,171.25 L319.03,170.35 L319.40,169.51 L319.76,168.74 L320.13,168.03 L320.49,167.41 L320.85,166.86 L321.22,166.41 L321.58,166.06 L321.95,165.82 L322.31,165.69 L322.67,165.68 L323.04,165.81 L323.40,166.08 L323.77,166.50 L324.13,167.09 L324.49,167.85 L324.86,168.80 L325.22,169.94 L325.59,171.28 L325.95,172.84 L326.31,174.62 L326.68,176.64 L327.04,178.90 L327.41,181.41 L327.77,184.18 L328.13,187.21 L328.50,190.51 L328.86,194.08 L329.23,197.92 L329.59,202.02 L329.95,206.39 L330.32,211.02 L330.68,215.90 L331.05,221.01 L331.41,226.35 L331.77,231.89 L332.14,237.62 L332.50,243.51 L332.86,249.54 L333.23,255.69 L333.59,261.93 L333.96,268.22 L334.32,274.54 L334.68,280.86 L335.05,287.14 L335.41,293.36 L335.78,299.49 L336.14,305.50 L336.50,311.37 L336.87,317.07 L337.23,322.58 L337.60,327.88 L337.96,332.95 L338.32,337.79 L338.69,342.37 L339.05,346.70 L339.42,350.76 L339.78,354.55 L340.14,358.07 L340.51,361.32 L340.87,364.31 L341.24,367.03 L341.60,369.50 L341.96,371.72 L342.33,373.70 L342.69,375.44 L343.06,376.96 L343.42,378.27 L343.78,379.38 L344.15,380.29 L344.51,381.02 L344.88,381.58 L345.24,381.98 L345.60,382.22 L345.97,382.33 L346.33,382.30 L346.70,382.15 L347.06,381.89 L347.42,381.52 L347.79,381.05 L348.15,380.49 L348.52,379.85 L348.88,379.14 L349.24,378.35 L349.61,377.50 L349.97,376.59 L350.34,375.63 L350.70,374.62 L351.06,373.57 L351.43,372.47 L351.79,371.34 L352.16,370.18 L352.52,368.99 L352.88,367.78 L353.25,366.54 L353.61,365.28 L353.98,364.01 L354.34,362.72 L354.70,361.41 L355.07,360.10 L355.43,358.77 L355.80,357.44 L356.16,356.10 L356.52,354.75 L356.89,353.41 L357.25,352.05 L357.62,350.70 L357.98,349.34 L358.34,347.98 L358.71,346.63 L359.07,345.27 L359.44,343.92 L359.80,342.57 L360.16,341.22 L360.53,339.87 L360.89,338.53 L361.26,337.19 L361.62,335.86 L361.98,334.53 L362.35,333.20 L362.71,331.88 L363.08,330.56 L363.44,329.25 L363.80,327.94 L364.17,326.64 L364.53,325.34 L364.89,324.05 L365.26,322.77 L365.62,321.48 L365.99,320.21 L366.35,318.94 L366.71,317.67 L367.08,316.41 L367.44,315.15 L367.81,313.90 L368.17,312.66 L368.53,311.42 L368.90,310.18 L369.26,308.95 L369.63,307.72 L369.99,306.50 L370.35,305.28 L370.72,304.06 L371.08,302.85 L371.45,301.64 L371.81,300.44 L372.17,299.24 L372.54,298.04 L372.90,296.85 L373.27,295.66 L373.63,294.47 L373.99,293.29 L374.36,292.10 L374.72,290.92 L375.09,289.75 L375.45,288.57 L375.81,287.40 L376.18,286.23 L376.54,285.06 L376.91,283.89 L377.27,282.72 L377.63,281.56 L378.00,280.39 L378.36,279.23 L378.73,278.07 L379.09,276.90 L379.45,275.74 L379.82,274.58 L380.18,273.42 L380.55,272.26 L380.91,271.10 L381.27,269.93 L381.64,268.77 L382.00,267.61 L382.37,266.44 L382.73,265.28 L383.09,264.11 L383.46,262.94 L383.82,261.77 L384.19,260.60 L384.55,259.43 L384.91,258.25 L385.28,257.08 L385.64,255.90 L386.01,254.71 L386.37,253.53 L386.73,252.34 L387.10,251.15 L387.46,249.96 L387.83,248.76 L388.19,247.56 L388.55,246.36 L388.92,245.15 L389.28,243.94 L389.65,242.72 L390.01,241.50 L390.37,240.28 L390.74,239.05 L391.10,237.82 L391.47,236.58 L391.83,235.34 L392.19,234.10 L392.56,232.85 L392.92,231.59 L393.29,230.33 L393.65,229.06 L394.01,227.79 L394.38,226.52 L394.74,225.23 L395.11,223.95 L395.47,222.66 L395.83,221.36 L396.20,220.06 L396.56,218.75 L396.92,217.44 L397.29,216.12 L397.65,214.80 L398.02,213.47 L398.38,212.14 L398.74,210.81 L399.11,209.47 L399.47,208.13 L399.84,206.78 L400.20,205.43 L400.56,204.08 L400.93,202.73 L401.29,201.37 L401.66,200.02 L402.02,198.66 L402.38,197.30 L402.75,195.95 L403.11,194.59 L403.48,193.25 L403.84,191.90 L404.20,190.56 L404.57,189.23 L404.93,187.90 L405.30,186.59 L405.66,185.28 L406.02,183.99 L406.39,182.72 L406.75,181.46 L407.12,180.22 L407.48,179.01 L407.84,177.82 L408.21,176.66 L408.57,175.53 L408.94,174.43 L409.30,173.38 L409.66,172.37 L410.03,171.41 L410.39,170.50 L410.76,169.65 L411.12,168.86 L411.48,168.15 L411.85,167.51 L412.21,166.95 L412.58,166.48 L412.94,166.11 L413.30,165.85 L413.67,165.70 L414.03,165.67 L414.40,165.78 L414.76,166.02 L415.12,166.42 L415.49,166.98 L415.85,167.71 L416.22,168.62 L416.58,169.73 L416.94,171.04 L417.31,172.56 L417.67,174.30 L418.04,176.28 L418.40,178.50 L418.76,180.97 L419.13,183.69 L419.49,186.68 L419.86,189.93 L420.22,193.45 L420.58,197.24 L420.95,201.30 L421.31,205.63 L421.68,210.21 L422.04,215.05 L422.40,220.12 L422.77,225.42 L423.13,230.93 L423.50,236.63 L423.86,242.50 L424.22,248.51 L424.59,254.64 L424.95,260.86 L425.32,267.14 L425.68,273.46 L426.04,279.78 L426.41,286.07 L426.77,292.31 L427.14,298.46 L427.50,304.49 L427.86,310.38 L428.23,316.11 L428.59,321.65 L428.95,326.99 L429.32,332.10 L429.68,336.98 L430.05,341.61 L430.41,345.98 L430.77,350.08 L431.14,353.92 L431.50,357.49 L431.87,360.79 L432.23,363.82 L432.59,366.59 L432.96,369.10 L433.32,371.36 L433.69,373.38 L434.05,375.16 L434.41,376.72 L434.78,378.06 L435.14,379.20 L435.51,380.15 L435.87,380.91 L436.23,381.50 L436.60,381.92 L436.96,382.19 L437.33,382.32 L437.69,382.31 L438.05,382.18 L438.42,381.94 L438.78,381.59 L439.15,381.14 L439.51,380.59 L439.87,379.97 L440.24,379.26 L440.60,378.49 L440.97,377.65 L441.33,376.75 L441.69,375.80 L442.06,374.80 L442.42,373.75 L442.79,372.66 L443.15,371.54 L443.51,370.38 L443.88,369.20 L444.24,367.99 L444.61,366.75 L444.97,365.50 L445.33,364.23 L445.70,362.94 L446.06,361.64 L446.43,360.32 L446.79,359.00 L447.15,357.67 L447.52,356.33 L447.88,354.98 L448.25,353.64 L448.61,352.28 L448.97,350.93 L449.34,349.57 L449.70,348.22 L450.07,346.86 L450.43,345.50 L450.79,344.15 L451.16,342.80 L451.52,341.45 L451.89,340.10 L452.25,338.76 L452.61,337.42 L452.98,336.08 L453.34,334.75 L453.71,333.42 L454.07,332.10 L454.43,330.78 L454.80,329.47 L455.16,328.16 L455.53,326.86 L455.89,325.56 L456.25,324.27 L456.62,322.98 L456.98,321.70 L457.35,320.42 L457.71,319.15 L458.07,317.89 L458.44,316.62 L458.80,315.37 L459.17,314.12 L459.53,312.87 L459.89,311.63 L460.26,310.39 L460.62,309.16 L460.98,307.93 L461.35,306.70 L461.71,305.48 L462.08,304.27 L462.44,303.06 L462.80,301.85 L463.17,300.64 L463.53,299.44 L463.90,298.25 L464.26,297.05 L464.62,295.86 L464.99,294.67 L465.35,293.49 L465.72,292.30 L466.08,291.12 L466.44,289.95 L466.81,288.77 L467.17,287.60 L467.54,286.43 L467.90,285.26 L468.26,284.09 L468.63,282.92 L468.99,281.76 L469.36,280.59 L469.72,279.43 L470.08,278.26 L470.45,277.10 L470.81,275.94 L471.18,274.78 L471.54,273.62 L471.90,272.46 L472.27,271.29 L472.63,270.13 L473.00,268.97 L473.36,267.81 L473.72,266.64 L474.09,265.48 L474.45,264.31 L474.82,263.14 L475.18,261.97 L475.54,260.80 L475.91,259.63 L476.27,258.45 L476.64,257.28 L477.00,256.10 L477.36,254.92 L477.73,253.73 L478.09,252.54 L478.46,251.35 L478.82,250.16 L479.18,248.97 L479.55,247.77 L479.91,246.56 L480.28,245.36 L480.64,244.15 L481.00,242.93 L481.37,241.71 L481.73,240.49 L482.10,239.26 L482.46,238.03 L482.82,236.79 L483.19,235.55 L483.55,234.31 L483.92,233.06 L484.28,231.80 L484.64,230.54 L485.01,229.28 L485.37,228.01 L485.74,226.73 L486.10,225.45 L486.46,224.17 L486.83,222.88 L487.19,221.58 L487.56,220.28 L487.92,218.97 L488.28,217.66 L488.65,216.35 L489.01,215.03 L489.38,213.70 L489.74,212.37 L490.10,211.04 L490.47,209.70 L490.83,208.36 L491.20,207.01 L491.56,205.66 L491.92,204.31 L492.29,202.96 L492.65,201.60 L493.02,200.25 L493.38,198.89 L493.74,197.53 L494.11,196.18 L494.47,194.83 L494.83,193.47 L495.20,192.13 L495.56,190.79 L495.93,189.45 L496.29,188.13 L496.65,186.81 L497.02,185.50 L497.38,184.21 L497.75,182.93 L498.11,181.67 L498.47,180.43 L498.84,179.21 L499.20,178.02 L499.57,176.85 L499.93,175.72 L500.29,174.62 L500.66,173.56 L501.02,172.54 L501.39,171.57 L501.75,170.65 L502.11,169.79 L502.48,168.99 L502.84,168.26 L503.21,167.61 L503.57,167.04 L503.93,166.56 L504.30,166.17 L504.66,165.89 L505.03,165.72 L505.39,165.67 L505.75,165.75 L506.12,165.97 L506.48,166.34 L506.85,166.87 L507.21,167.57 L507.57,168.45 L507.94,169.53 L508.30,170.80 L508.67,172.28 L509.03,173.99 L509.39,175.93 L509.76,178.10 L510.12,180.53 L510.49,183.21 L510.85,186.15 L511.21,189.36 L511.58,192.83 L511.94,196.58 L512.31,200.59 L512.67,204.87 L513.03,209.42 L513.40,214.21 L513.76,219.24 L514.13,224.50 L514.49,229.98 L514.85,235.65 L515.22,241.49 L515.58,247.48 L515.95,253.59 L516.31,259.80 L516.67,266.07 L517.04,272.38 L517.40,278.71 L517.77,285.00 L518.13,291.25 L518.49,297.42 L518.86,303.47 L519.22,309.39 L519.59,315.15 L519.95,320.72 L520.31,326.10 L520.68,331.25 L521.04,336.17 L521.41,340.84 L521.77,345.25 L522.13,349.40 L522.50,353.29 L522.86,356.90 L523.23,360.24 L523.59,363.32 L523.95,366.13 L524.32,368.69 L524.68,370.99 L525.05,373.05 L525.41,374.87 L525.77,376.47 L526.14,377.85 L526.50,379.02 L526.86,380.00 L527.23,380.79 L527.59,381.41 L527.96,381.86 L528.32,382.16 L528.68,382.31 L529.05,382.32 L529.41,382.22 L529.78,381.99 L530.14,381.65 L530.50,381.22 L530.87,380.69 L531.23,380.08 L531.60,379.39 L531.96,378.63 L532.32,377.80 L532.69,376.91 L533.05,375.96 L533.42,374.97 L533.78,373.93 L534.14,372.85 L534.51,371.73 L534.87,370.58 L535.24,369.40 L535.60,368.20 L535.96,366.97 L536.33,365.72 L536.69,364.45 L537.06,363.16 L537.42,361.86 L537.78,360.55 L538.15,359.23 L538.51,357.90 L538.88,356.56 L539.24,355.21 L539.60,353.87 L539.97,352.51 L540.33,351.16 L540.70,349.80 L541.06,348.45 L541.42,347.09 L541.79,345.73 L542.15,344.38 L542.52,343.03 L542.88,341.68 L543.24,340.33 L543.61,338.99 L543.97,337.65 L544.34,336.31 L544.70,334.98 L545.06,333.65 L545.43,332.33 L545.79,331.01 L546.16,329.70 L546.52,328.39 L546.88,327.08 L547.25,325.78 L547.61,324.49 L547.98,323.20 L548.34,321.92 L548.70,320.64 L549.07,319.37 L549.43,318.10 L549.80,316.84 L550.16,315.58 L550.52,314.33 L550.89,313.08 L551.25,311.84 L551.62,310.60 L551.98,309.37 L552.34,308.14 L552.71,306.91 L553.07,305.69 L553.44,304.48 L553.80,303.26 L554.16,302.05 L554.53,300.85 L554.89,299.65 L555.26,298.45 L555.62,297.25 L555.98,296.06 L556.35,294.87 L556.71,293.69 L557.08,292.51 L557.44,291.33 L557.80,290.15 L558.17,288.97 L558.53,287.80 L558.89,286.63 L559.26,285.46 L559.62,284.29 L559.99,283.12 L560.35,281.95 L560.71,280.79 L561.08,279.63 L561.44,278.46 L561.81,277.30 L562.17,276.14 L562.53,274.98 L562.90,273.81 L563.26,272.65 L563.63,271.49 L563.99,270.33 L564.35,269.17 L564.72,268.00 L565.08,266.84 L565.45,265.67 L565.81,264.51 L566.17,263.34 L566.54,262.17 L566.90,261.00 L567.27,259.83 L567.63,258.65 L567.99,257.48 L568.36,256.30 L568.72,255.12 L569.09,253.93 L569.45,252.75 L569.81,251.56 L570.18,250.37 L570.54,249.17 L570.91,247.97 L571.27,246.77 L571.63,245.56 L572.00,244.35 L572.36,243.14 L572.73,241.92 L573.09,240.70 L573.45,239.47 L573.82,238.24 L574.18,237.01 L574.55,235.77 L574.91,234.52 L575.27,233.27 L575.64,232.02 L576.00,230.76 L576.37,229.49 L576.73,228.23 L577.09,226.95 L577.46,225.67 L577.82,224.39 L578.19,223.10 L578.55,221.80 L578.91,220.50 L579.28,219.20 L579.64,217.89 L580.01,216.57 L580.37,215.25 L580.73,213.93 L581.10,212.60 L581.46,211.26 L581.83,209.93 L582.19,208.59 L582.55,207.24 L582.92,205.89 L583.28,204.54 L583.65,203.19 L584.01,201.83 L584.37,200.48 L584.74,199.12 L585.10,197.76 L585.47,196.41 L585.83,195.06 L586.19,193.70 L586.56,192.36 L586.92,191.02 L587.29,189.68 L587.65,188.35 L588.01,187.03 L588.38,185.72 L588.74,184.43 L589.11,183.15 L589.47,181.88 L589.83,180.64 L590.20,179.42 L590.56,178.22 L590.92,177.05 L591.29,175.91 L591.65,174.80 L592.02,173.73 L592.38,172.71 L592.74,171.73 L593.11,170.80 L593.47,169.93 L593.84,169.12 L594.20,168.38 L594.56,167.72 L594.93,167.13 L595.29,166.63 L595.66,166.23 L596.02,165.93 L596.38,165.74 L596.75,165.67 L597.11,165.73 L597.48,165.92 L597.84,166.27 L598.20,166.77 L598.57,167.44 L598.93,168.29 L599.30,169.33 L599.66,170.57 L600.02,172.02 L600.39,173.68 L600.75,175.58 L601.12,177.72 L601.48,180.10 L601.84,182.73 L602.21,185.63 L602.57,188.79 L602.94,192.22 L603.30,195.92 L603.66,199.89 L604.03,204.13 L604.39,208.62 L604.76,213.37 L605.12,218.37 L605.48,223.59 L605.85,229.03 L606.21,234.67 L606.58,240.48 L606.94,246.45 L607.30,252.54 L607.67,258.73 L608.03,265.00 L608.40,271.31 L608.76,277.63 L609.12,283.93 L609.49,290.19 L609.85,296.37 L610.22,302.45 L610.58,308.39 L610.94,314.18 L611.31,319.79 L611.67,325.20 L612.04,330.39 L612.40,335.35 L612.76,340.06 L613.13,344.52 L613.49,348.71 L613.86,352.64 L614.22,356.30 L614.58,359.69 L614.95,362.82 L615.31,365.67 L615.68,368.27 L616.04,370.62 L616.40,372.72 L616.77,374.58 L617.13,376.21 L617.50,377.63 L617.86,378.84 L618.22,379.85 L618.59,380.67 L618.95,381.31 L619.32,381.79 L619.68,382.12 L620.04,382.29 L620.41,382.33 L620.77,382.24 L621.14,382.04 L621.50,381.72 L621.86,381.30 L622.23,380.79 L622.59,380.19 L622.95,379.51 L623.32,378.76 L623.68,377.94 L624.05,377.06 L624.41,376.13 L624.77,375.14 L625.14,374.11 L625.50,373.04 L625.87,371.93 L626.23,370.78 L626.59,369.61 L626.96,368.40 L627.32,367.18 L627.69,365.93 L628.05,364.66 L628.41,363.38 L628.78,362.08 L629.14,360.77 L629.51,359.45 L629.87,358.12 L630.23,356.79 L630.60,355.44 L630.96,354.10 L631.33,352.74 L631.69,351.39 L632.05,350.03 L632.42,348.68 L632.78,347.32 L633.15,345.97 L633.51,344.61 L633.87,343.26 L634.24,341.91 L634.60,340.56 L634.97,339.22 L635.33,337.87 L635.69,336.54 L636.06,335.20 L636.42,333.88 L636.79,332.55 L637.15,331.23 L637.51,329.92 L637.88,328.61 L638.24,327.30 L638.61,326.01 L638.97,324.71 L639.33,323.42 L639.70,322.14 L640.06,320.86 L640.43,319.59 L640.79,318.32 L641.15,317.05 L641.52,315.80 L641.88,314.54 L642.25,313.29 L642.61,312.05 L642.97,310.81 L643.34,309.58 L643.70,308.35 L644.07,307.12 L644.43,305.90 L644.79,304.68 L645.16,303.47 L645.52,302.26 L645.89,301.05 L646.25,299.85 L646.61,298.65 L646.98,297.46 L647.34,296.27 L647.71,295.08 L648.07,293.89 L648.43,292.71 L648.80,291.53 L649.16,290.35 L649.53,289.17 L649.89,288.00 L650.25,286.82 L650.62,285.65 L650.98,284.49 L651.35,283.32 L651.71,282.15 L652.07,280.99 L652.44,279.82 L652.80,278.66 L653.17,277.50 L653.53,276.34 L653.89,275.17 L654.26,274.01 L654.62,272.85 L654.98,271.69 L655.35,270.53 L655.71,269.37 L656.08,268.20 L656.44,267.04 L656.80,265.87 L657.17,264.71 L657.53,263.54 L657.90,262.37 L658.26,261.20 L658.62,260.03 L658.99,258.85 L659.35,257.68 L659.72,256.50 L660.08,255.32 L660.44,254.14 L660.81,252.95 L661.17,251.76 L661.54,250.57 L661.90,249.37 L662.26,248.17 L662.63,246.97 L662.99,245.77 L663.36,244.56 L663.72,243.34 L664.08,242.13 L664.45,240.91 L664.81,239.68 L665.18,238.45 L665.54,237.22 L665.90,235.98 L666.27,234.73 L666.63,233.49 L667.00,232.23 L667.36,230.97 L667.72,229.71 L668.09,228.44 L668.45,227.17 L668.82,225.89 L669.18,224.61 L669.54,223.32 L669.91,222.02 L670.27,220.72 L670.64,219.42 L671.00,218.11" fill="none" stroke="#a3c4e6" stroke-width="2.2" stroke-linejoin="round"/>
<g style="font-family:'Liberation Sans',sans-serif" font-size="29" fill="#2e2e2e"><text transform="translate(42.90,79.90) scale(0.95,1)" clip-path="url(#one)">1</text><text transform="translate(58.22,79.90) scale(0.95,1)">.5</text><text transform="translate(65.88,147.90) scale(0.95,1)" clip-path="url(#one)">1</text><text transform="translate(42.90,215.90) scale(0.95,1)">0.5</text><text transform="translate(65.88,284.40) scale(0.95,1)">0</text><text transform="translate(33.73,352.90) scale(0.95,1)">-0.5</text><text transform="translate(56.70,420.90) scale(0.95,1)">-</text><text transform="translate(65.88,420.90) scale(0.95,1)" clip-path="url(#one)">1</text><text transform="translate(69.09,472.80) scale(0.95,1)">-</text><text transform="translate(78.27,472.80) scale(0.95,1)" clip-path="url(#one)">1</text><text transform="translate(93.59,472.80) scale(0.95,1)">0</text><text transform="translate(222.25,472.80) scale(0.95,1)">-5</text><text transform="translate(372.64,472.80) scale(0.95,1)">0</text><text transform="translate(517.84,472.80) scale(0.95,1)">5</text><text transform="translate(655.68,472.80) scale(0.95,1)" clip-path="url(#one)">1</text><text transform="translate(671.00,472.80) scale(0.95,1)">0</text></g>
<text style="font-family:'Liberation Serif',serif" font-size="26.5" fill="#262626" transform="translate(19.6,331.2) rotate(-90)" textLength="227" lengthAdjust="spacingAndGlyphs">remainder function</text>
<text style="font-family:'Liberation Serif',serif;font-style:italic" font-size="23.615" fill="#262626" transform="translate(346.75,502.32) scale(1.0167,1)">ω</text><text style="font-family:'Liberation Serif',serif;font-style:italic" font-size="27.988" fill="#262626" transform="translate(365.12,502.88) scale(0.9227,1)">ℓ</text><text style="font-family:'Liberation Serif',serif" font-size="42.604" fill="#262626" transform="translate(378.15,511.13) scale(0.8533,1)">/</text><text style="font-family:'Liberation Serif',serif;font-style:italic" font-size="23.495" fill="#262626" transform="translate(390.80,502.62) scale(1.0367,1)">c</text><text style="font-family:'Liberation Serif',serif" font-size="18.968" fill="#262626" transform="translate(402.17,507.16) scale(0.9453,1)">0</text>
<rect x="116.5" y="10.7" width="119.8" height="34.6" fill="#fff" stroke="#1e1e1e" stroke-width="1.3"/><text style="font-family:'Liberation Serif',serif" font-size="25.275" fill="#000" stroke="#000" stroke-width="0.15" transform="translate(119.70,33.98) scale(0.9908,1)">Γ</text><text style="font-family:'Liberation Serif',serif" font-size="15.678" fill="#000" stroke="#000" stroke-width="0.15" transform="translate(134.74,37.48) scale(1.0055,1)">1</text><text style="font-family:'Liberation Serif',serif" font-size="23.400" fill="#000" stroke="#000" stroke-width="0.15" transform="translate(151.80,35.77) scale(1.3913,1)">=</text><text style="font-family:'Liberation Serif',serif" font-size="24.500" fill="#000" stroke="#000" stroke-width="0.15" transform="translate(178.66,36.93) scale(1.1973,1)">−</text><text style="font-family:'Liberation Serif',serif" font-size="24.996" fill="#000" stroke="#000" stroke-width="0.15" transform="translate(196.87,33.77) scale(0.9630,1)">2</text><text style="font-family:'Liberation Serif',serif" font-size="35.504" fill="#000" stroke="#000" stroke-width="0.15" transform="translate(210.22,39.43) scale(0.9073,1)">/</text><text style="font-family:'Liberation Serif',serif" font-size="25.377" fill="#000" stroke="#000" stroke-width="0.15" transform="translate(220.98,34.03) scale(0.9396,1)">3</text><rect x="126" y="65.3" width="100.6" height="34.7" fill="#fff" stroke="#1e1e1e" stroke-width="1.3"/><text style="font-family:'Liberation Serif',serif" font-size="24.512" fill="#000" stroke="#000" stroke-width="0.15" transform="translate(128.99,88.17) scale(1.0454,1)">Γ</text><text style="font-family:'Liberation Serif',serif" font-size="15.783" fill="#000" stroke="#000" stroke-width="0.15" transform="translate(144.63,92.27) scale(1.0036,1)">2</text><text style="font-family:'Liberation Serif',serif" font-size="23.400" fill="#000" stroke="#000" stroke-width="0.15" transform="translate(161.38,90.57) scale(1.4097,1)">=</text><text style="font-family:'Liberation Serif',serif" font-size="24.335" fill="#000" stroke="#000" stroke-width="0.15" transform="translate(187.06,88.54) scale(0.9550,1)">3</text><text style="font-family:'Liberation Serif',serif" font-size="35.504" fill="#000" stroke="#000" stroke-width="0.15" transform="translate(201.12,94.03) scale(0.8465,1)">/</text><text style="font-family:'Liberation Serif',serif" font-size="24.302" fill="#000" stroke="#000" stroke-width="0.15" transform="translate(211.29,88.54) scale(1.0164,1)">5</text>
<rect x="505.6" y="14.6" width="155" height="68.6" fill="#fffbea" stroke="#666" stroke-width="1.1"/><line x1="509.5" y1="32.8" x2="550.8" y2="32.8" stroke="#dc1f0c" stroke-width="2.2"/><line x1="509.5" y1="65.6" x2="550.8" y2="65.6" stroke="#a3c4e6" stroke-width="2.2"/><text style="font-family:'Liberation Serif',serif" font-size="24.359" fill="#000" stroke="#000" stroke-width="0.05" transform="translate(554.17,39.32) scale(1.0090,1)">R</text><text style="font-family:'Liberation Serif',serif" font-size="20.896" fill="#000" stroke="#000" stroke-width="0.05" transform="translate(571.41,39.42) scale(1.1831,1)">e</text><text style="font-family:'Liberation Serif',serif" font-size="27.669" fill="#000" stroke="#000" stroke-width="0.30" transform="translate(585.53,41.40) scale(0.3733,1)">[</text><text style="font-family:'Liberation Serif',serif" font-size="24.392" fill="#000" stroke="#000" stroke-width="0.05" transform="translate(589.97,39.52) scale(0.9582,1)">Ω</text><text style="font-family:'Liberation Serif',serif" font-size="19.409" fill="#000" stroke="#000" stroke-width="0.30" transform="translate(595.23,31.00) scale(0.9770,1)">ˆ</text><text style="font-family:'Liberation Serif',serif" font-size="25.917" fill="#000" stroke="#000" stroke-width="0.30" transform="translate(608.74,39.58) scale(0.7512,1)">(</text><text style="font-family:'Liberation Serif',serif" font-size="23.032" fill="#000" stroke="#000" stroke-width="0.25" transform="translate(617.78,39.22) scale(0.8125,1)">i</text><text style="font-family:'Liberation Serif',serif;font-style:italic" font-size="21.002" fill="#000" stroke="#000" stroke-width="0.05" transform="translate(623.95,39.42) scale(1.0410,1)">ω</text><text style="font-family:'Liberation Serif',serif" font-size="25.917" fill="#000" stroke="#000" stroke-width="0.30" transform="translate(640.77,39.58) scale(0.7512,1)">)</text><text style="font-family:'Liberation Serif',serif" font-size="27.669" fill="#000" stroke="#000" stroke-width="0.30" transform="translate(650.03,41.40) scale(0.3733,1)">]</text><text style="font-family:'Liberation Serif',serif" font-size="24.665" fill="#000" stroke="#000" stroke-width="0.05" transform="translate(553.35,72.53) scale(1.1541,1)">I</text><text style="font-family:'Liberation Serif',serif" font-size="23.239" fill="#000" stroke="#000" stroke-width="0.05" transform="translate(563.06,72.53) scale(1.0653,1)">m</text><text style="font-family:'Liberation Serif',serif" font-size="27.669" fill="#000" stroke="#000" stroke-width="0.30" transform="translate(585.53,74.60) scale(0.3733,1)">[</text><text style="font-family:'Liberation Serif',serif" font-size="24.392" fill="#000" stroke="#000" stroke-width="0.05" transform="translate(589.97,72.73) scale(0.9582,1)">Ω</text><text style="font-family:'Liberation Serif',serif" font-size="19.409" fill="#000" stroke="#000" stroke-width="0.30" transform="translate(595.23,64.20) scale(0.9770,1)">ˆ</text><text style="font-family:'Liberation Serif',serif" font-size="25.917" fill="#000" stroke="#000" stroke-width="0.30" transform="translate(608.74,72.78) scale(0.7512,1)">(</text><text style="font-family:'Liberation Serif',serif" font-size="23.032" fill="#000" stroke="#000" stroke-width="0.25" transform="translate(617.78,72.42) scale(0.8125,1)">i</text><text style="font-family:'Liberation Serif',serif;font-style:italic" font-size="21.002" fill="#000" stroke="#000" stroke-width="0.05" transform="translate(623.95,72.62) scale(1.0410,1)">ω</text><text style="font-family:'Liberation Serif',serif" font-size="25.917" fill="#000" stroke="#000" stroke-width="0.30" transform="translate(640.77,72.78) scale(0.7512,1)">)</text><text style="font-family:'Liberation Serif',serif" font-size="27.669" fill="#000" stroke="#000" stroke-width="0.30" transform="translate(650.03,74.60) scale(0.3733,1)">]</text>
</svg>
</body></html>
